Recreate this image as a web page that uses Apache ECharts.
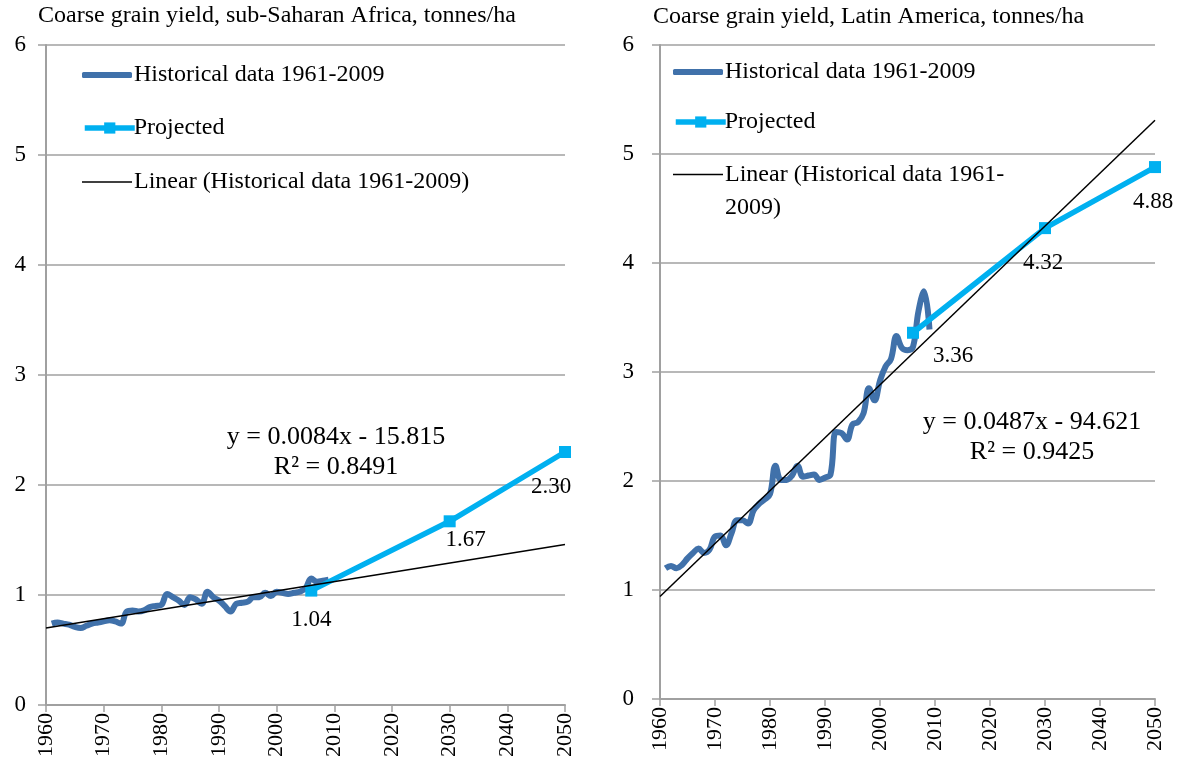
<!DOCTYPE html>
<html>
<head>
<meta charset="utf-8">
<script src="https://cdn.jsdelivr.net/npm/echarts@6/dist/echarts.min.js"></script>
<style>
  html, body { margin: 0; padding: 0; background: #fff; }
  #chart { width: 1179px; height: 773px; }
</style>
</head>
<body>
<div id="chart"></div>
<script>
// years of the historical series
var histYears = [1961, 1962, 1963, 1964, 1965, 1966, 1967, 1968, 1969, 1970,
  1971, 1972, 1973, 1974, 1975, 1976, 1977, 1978, 1979, 1980,
  1981, 1982, 1983, 1984, 1985, 1986, 1987, 1988, 1989, 1990,
  1991, 1992, 1993, 1994, 1995, 1996, 1997, 1998, 1999, 2000,
  2001, 2002, 2003, 2004, 2005, 2006, 2007, 2008, 2009]

// sub-Saharan Africa, tonnes/ha
var ssaHist = [0.74, 0.75, 0.74, 0.73, 0.71, 0.70, 0.72, 0.74, 0.75, 0.76,
  0.77, 0.76, 0.74, 0.85, 0.86, 0.85, 0.86, 0.89, 0.90, 0.91,
  1.01, 0.98, 0.95, 0.91, 0.98, 0.96, 0.92, 1.03, 0.98, 0.95,
  0.90, 0.85, 0.92, 0.93, 0.94, 0.98, 0.98, 1.02, 0.99, 1.03,
  1.02, 1.01, 1.02, 1.03, 1.06, 1.15, 1.12, 1.13, 1.14]

// Latin America, tonnes/ha
var laHist = [1.20, 1.22, 1.20, 1.23, 1.29, 1.34, 1.38, 1.34, 1.37, 1.49,
  1.50, 1.41, 1.52, 1.64, 1.64, 1.61, 1.73, 1.79, 1.83, 1.88,
  2.14, 2.01, 2.01, 2.05, 2.14, 2.04, 2.05, 2.06, 2.01, 2.03,
  2.06, 2.45, 2.44, 2.38, 2.52, 2.54, 2.62, 2.85, 2.74, 2.92,
  3.05, 3.12, 3.33, 3.22, 3.20, 3.23, 3.56, 3.74, 3.39]

var projYears = [2006, 2030, 2050]
var ssaProj = [1.04, 1.67, 2.30]
var laProj = [3.36, 4.32, 4.88]

// trend line ends
var trendYears = [1960, 2050]
var ssaTrend = [0.70, 1.46]
var laTrend = [0.94, 5.31]

var ssaEquation = ['y = 0.0084x - 15.815', 'R² = 0.8491']
var laEquation = ['y = 0.0487x - 94.621', 'R² = 0.9425']

var HIST = 'Historical data 1961-2009'
var PROJ = 'Projected'
var LIN = 'Linear (Historical data 1961-2009)'

var FONT = '"Liberation Serif", "Times New Roman", serif'
var BLUE = '#4071aa'
var CYAN = '#00b0f0'
var GREY = '#a0a0a0'

function pairs (xs, ys) {
  return xs.map(function (x, i) { return [x, ys[i]] })
}

var chart = echarts.init(document.getElementById('chart'))

function xAxis (idx) {
  return {
    gridIndex: idx,
    type: 'value',
    min: 1960,
    max: 2050,
    interval: 10,
    axisLine: { show: true, onZero: false, lineStyle: { color: GREY, width: 2 } },
    axisTick: { show: true, length: 7, lineStyle: { color: GREY, width: 1.5 } },
    splitLine: { show: false },
    axisLabel: {
      rotate: 90,
      color: '#000',
      fontFamily: FONT,
      fontSize: 22,
      margin: 8,
      formatter: function (v) { return String(v) }
    }
  }
}

function yAxis (idx, margin) {
  return {
    gridIndex: idx,
    type: 'value',
    min: 0,
    max: 6,
    interval: 1,
    axisLine: { show: true, lineStyle: { color: GREY, width: 2 } },
    axisTick: { show: true, length: 8, lineStyle: { color: GREY, width: 1.5 } },
    splitLine: { show: true, lineStyle: { color: GREY, width: 1.5 } },
    axisLabel: { color: '#000', fontFamily: FONT, fontSize: 23, margin: margin }
  }
}

function seriesFor (idx, hist, proj, trend, labelOffsets) {
  return [{
    name: HIST,
    type: 'line',
    xAxisIndex: idx,
    yAxisIndex: idx,
    data: pairs(histYears, hist),
    smooth: 0.4,
    symbol: 'none',
    lineStyle: { color: BLUE, width: 6 },
    itemStyle: { color: BLUE },
    z: 2
  }, {
    name: PROJ,
    type: 'line',
    xAxisIndex: idx,
    yAxisIndex: idx,
    data: pairs(projYears, proj).map(function (p, i) {
      return { value: p, label: { offset: labelOffsets[i] } }
    }),
    symbol: 'rect',
    symbolSize: 12,
    lineStyle: { color: CYAN, width: 5.5 },
    itemStyle: { color: CYAN },
    label: {
      show: true,
      position: 'bottom',
      distance: 5,
      color: '#000',
      fontFamily: FONT,
      fontSize: 23,
      formatter: function (p) { return p.value[1].toFixed(2) }
    },
    z: 3
  }, {
    name: LIN,
    type: 'line',
    xAxisIndex: idx,
    yAxisIndex: idx,
    data: pairs(trendYears, trend),
    symbol: 'none',
    lineStyle: { color: '#000', width: 1.5 },
    itemStyle: { color: '#000' },
    silent: true,
    z: 4
  }]
}

// one legend per entry so each row sits where the reference has it
function legendItem (name, left, yc, opt) {
  var lg = {
    orient: 'vertical',
    left: left,
    top: yc - 12,
    padding: 0,
    itemWidth: 50,
    itemHeight: 14,
    selectedMode: false,
    data: [name],
    textStyle: { color: '#000', fontFamily: FONT, fontSize: 24, lineHeight: 24, padding: [0, 0, 0, opt.pad || -3] }
  }
  if (opt.icon) {
    lg.icon = opt.icon
    lg.itemHeight = opt.h
  }
  if (opt.lineWidth) {
    lg.lineStyle = { width: opt.lineWidth }
  }
  if (opt.wrap) {
    // blank first line keeps the icon level with the first line of text
    lg.formatter = function () { return '\nLinear (Historical data 1961-\n2009)' }
    lg.textStyle.lineHeight = 33
    lg.top = yc - 50
  }
  return lg
}

function legendsFor (left, ys, wrap) {
  return [
    legendItem(HIST, left, ys[0], { icon: 'roundRect', h: 6 }),
    legendItem(PROJ, left, ys[1], { lineWidth: 5.5, pad: -6 }),
    legendItem(LIN, left, ys[2], { icon: 'rect', h: 1.5, wrap: wrap })
  ]
}

function eqText (x, y, lines) {
  return {
    type: 'text',
    x: x,
    y: y,
    style: {
      text: lines.join('\n'),
      font: '26px ' + FONT,
      fill: '#000',
      align: 'center',
      verticalAlign: 'middle',
      lineHeight: 30
    }
  }
}

chart.setOption({
  animation: false,
  title: [{
    text: 'Coarse grain yield, sub-Saharan Africa, tonnes/ha',
    left: 38,
    top: 4,
    padding: 0,
    textStyle: { color: '#000', fontFamily: FONT, fontSize: 24, fontWeight: 'normal' }
  }, {
    text: 'Coarse grain yield, Latin America, tonnes/ha',
    left: 653,
    top: 5,
    padding: 0,
    textStyle: { color: '#000', fontFamily: FONT, fontSize: 24, fontWeight: 'normal' }
  }],
  legend: legendsFor(82, [75, 128, 182], false).concat(legendsFor(673, [72, 122, 175], true)),
  grid: [
    { left: 46, top: 45, width: 519, height: 660 },
    { left: 660, top: 45, width: 495, height: 654 }
  ],
  xAxis: [xAxis(0), xAxis(1)],
  yAxis: [yAxis(0, 20), yAxis(1, 26)],
  series: seriesFor(0, ssaHist, ssaProj, ssaTrend, [[0, 7], [16, -4], [-14, 12]])
    .concat(seriesFor(1, laHist, laProj, laTrend, [[40, 1], [-2, 12], [-2, 12]])),
  graphic: [
    eqText(336, 452, ssaEquation),
    eqText(1032, 437, laEquation)
  ]
})
</script>
</body>
</html>
